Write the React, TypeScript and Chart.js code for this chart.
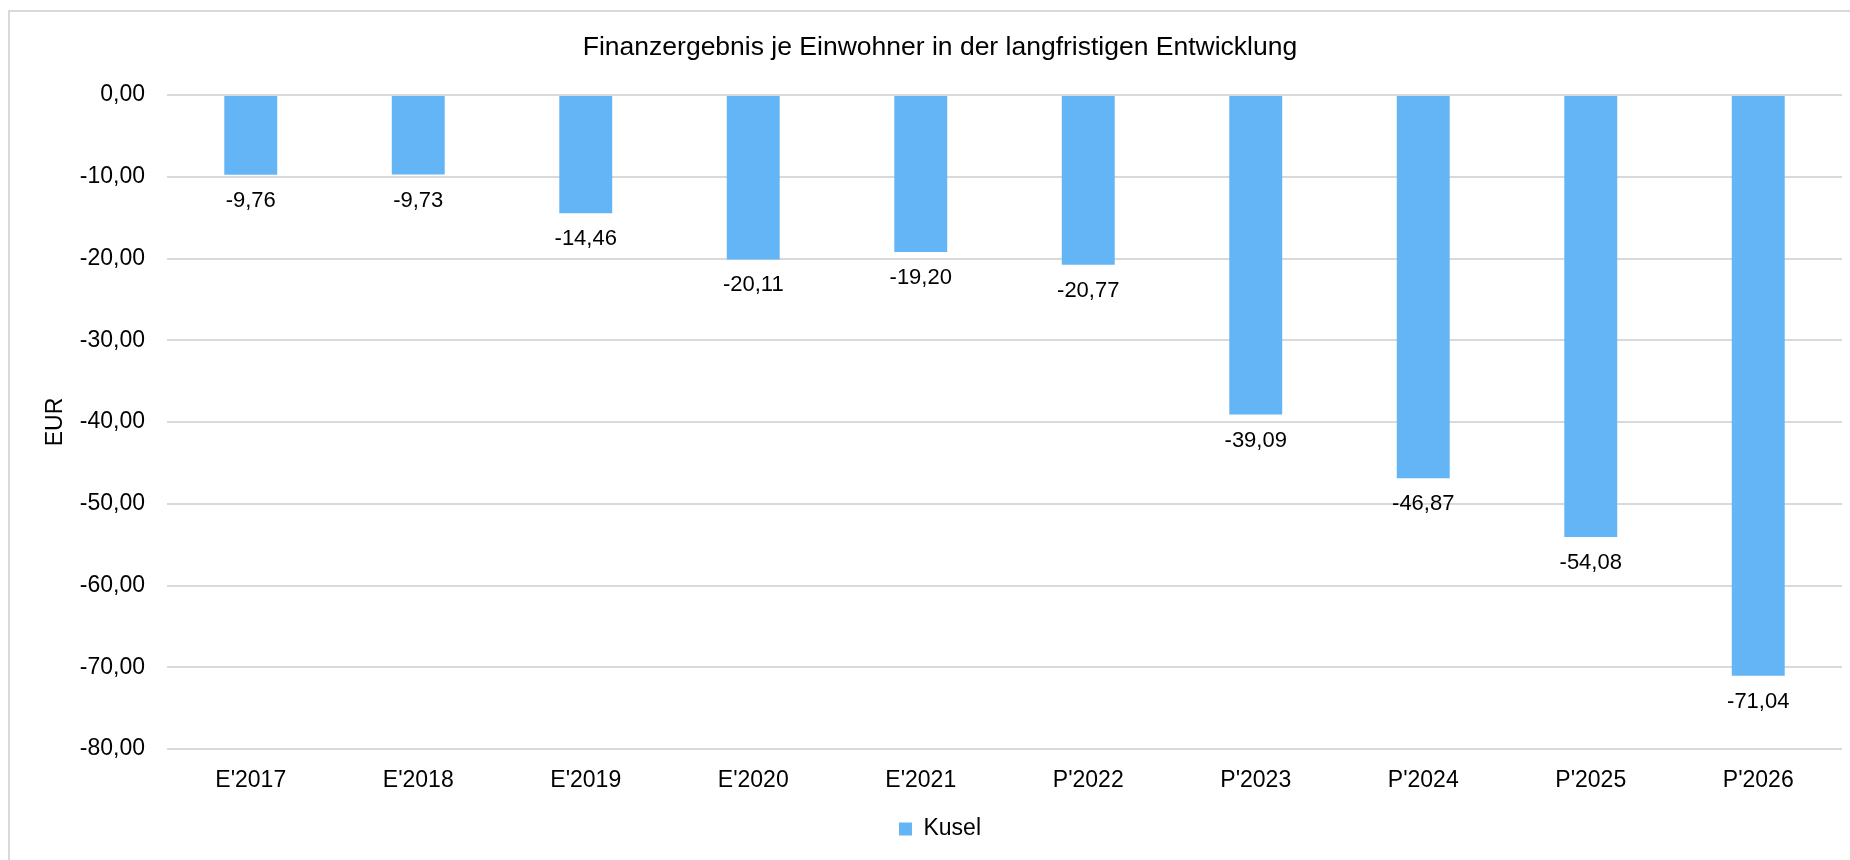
import React, { useEffect, useRef } from 'react';
import { Chart, registerables } from 'chart.js';

Chart.register(...registerables);

const categories: string[] = ["E'2017", "E'2018", "E'2019", "E'2020", "E'2021", "P'2022", "P'2023", "P'2024", "P'2025", "P'2026"];
const kuselValues: number[] = [-9.76, -9.73, -14.46, -20.11, -19.2, -20.77, -39.09, -46.87, -54.08, -71.04];
const seriesLabel = 'Kusel';
const chartTitle = 'Finanzergebnis je Einwohner in der langfristigen Entwicklung';
const yAxisTitle = 'EUR';
const yMin = -80;
const yMax = 0;
const yStep = 10;

const FONT = '"Liberation Sans", Arial, Helvetica, sans-serif';
const fmt = (v: number) => Number(v).toFixed(2).replace('.', ',');

const valueLabelPlugin = {
  id: 'valueLabelPlugin',
  afterDatasetsDraw(chart: any) {
    const ctx = chart.ctx;
    chart.data.datasets.forEach((ds: any, i: number) => {
      const meta = chart.getDatasetMeta(i);
      meta.data.forEach((el: any, j: number) => {
        const v = ds.data[j] as number;
        ctx.save();
        ctx.font = `22px ${FONT}`;
        ctx.fillStyle = '#000';
        ctx.textAlign = 'center';
        ctx.textBaseline = 'middle';
        ctx.fillText(fmt(v), el.x, el.y + 26);
        ctx.restore();
      });
    });
  },
};

export default function App() {
  const ref = useRef<HTMLCanvasElement | null>(null);
  useEffect(() => {
    if (!ref.current) return;
    Chart.defaults.font.family = FONT;
    const chart = new Chart(ref.current, {
      type: 'bar',
      data: {
        labels: categories,
        datasets: [
          {
            label: seriesLabel,
            data: kuselValues,
            backgroundColor: '#64B5F6',
            borderWidth: 0,
            barPercentage: 0.316,
            categoryPercentage: 1,
          },
        ],
      },
      options: {
        animation: false,
        responsive: false,
        layout: { padding: { left: 28, right: 28, top: 0, bottom: 41.5 } },
        plugins: {
          title: {
            display: true,
            text: chartTitle,
            color: '#000',
            font: { size: 26.5, weight: 'normal', family: FONT },
            padding: { top: 19.6, bottom: 31.6 },
          },
          legend: {
            display: true,
            position: 'bottom',
            labels: {
              color: '#000',
              font: { size: 23, family: FONT },
              boxWidth: 13,
              boxHeight: 13,
              padding: 10,
            },
          },
          tooltip: { enabled: false },
        },
        scales: {
          x: {
            grid: { display: false, drawTicks: false },
            border: { display: false },
            ticks: {
              color: '#000',
              font: { size: 23, family: FONT },
              padding: 18,
              maxRotation: 0,
              autoSkip: false,
            },
            afterFit(scale: any) {
              scale.height = 58.5;
            },
          },
          y: {
            min: yMin,
            max: yMax,
            grid: { color: '#d9d9d9', lineWidth: 2, drawTicks: false },
            border: { display: false },
            ticks: {
              stepSize: yStep,
              color: '#000',
              font: { size: 23, family: FONT },
              padding: 22,
              callback: (v: any) => fmt(Number(v)),
            },
            title: {
              display: true,
              text: yAxisTitle,
              color: '#000',
              font: { size: 23, family: FONT },
              padding: { top: 4, bottom: 0 },
            },
            afterFit(scale: any) {
              scale.width = 129;
            },
          },
        },
      },
      plugins: [valueLabelPlugin],
    } as any);
    return () => chart.destroy();
  }, []);

  return (
    <div style={{ position: 'fixed', left: 0, top: 0, width: '100vw', height: '100vh', overflow: 'hidden', background: '#fff' }}>
      <div
        style={{
          position: 'absolute',
          left: 8,
          top: 10,
          width: 1860,
          height: 880,
          borderLeft: '2px solid #d9d9d9',
          borderTop: '2px solid #d9d9d9',
          background: '#fff',
        }}
      >
        <canvas ref={ref} width={1860} height={880} style={{ display: 'block', width: 1860, height: 880 }} />
      </div>
    </div>
  );
}
